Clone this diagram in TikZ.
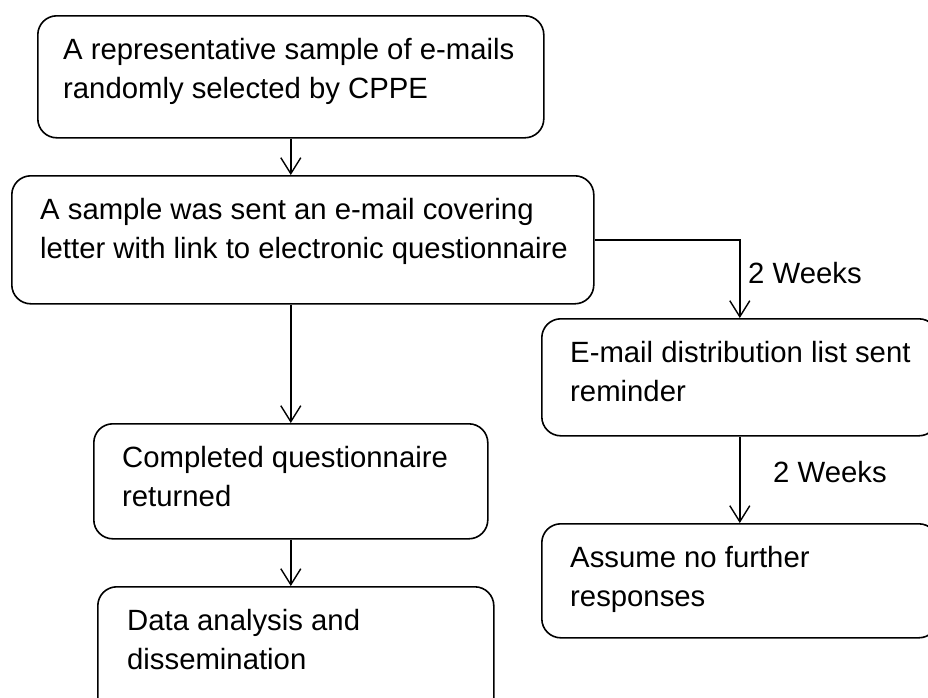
\documentclass[tikz,border=0pt]{standalone}
\usepackage{fontspec}
\setmainfont{Liberation Sans}
\usetikzlibrary{arrows.meta}
\begin{document}
\begin{tikzpicture}[x=1pt,y=-1pt,
  box/.style={draw, line width=1.6pt, rounded corners=19pt, inner sep=0pt, anchor=north west},
  txt/.style={inner sep=0pt, anchor=north west, align=left, font=\fontsize{29.3}{39}\selectfont},
  arr/.style={line width=1.6pt, -{Straight Barb[length=16pt,width=20pt,line width=1.4pt]}}]
\clip (0,0) rectangle (928,697);
\fill[white] (0,0) rectangle (928,697);
% boxes
\node[box, minimum width=506pt, minimum height=122pt] (b1) at (37,15) {};
\node[box, minimum width=582pt, minimum height=128pt] (b2) at (11,175) {};
\node[box, minimum width=396pt, minimum height=117pt] (b3) at (541,318) {};
\node[box, minimum width=396pt, minimum height=114pt] (b4) at (541,523) {};
\node[box, minimum width=394pt, minimum height=115pt] (b5) at (93,423) {};
\node[box, minimum width=396pt, minimum height=130pt] (b6) at (97,586) {};
% texts
\node[txt] (t1) at (63,38) {A representative sample of e-mails\\randomly selected by CPPE};
\node[txt] (t2) at (40,198) {A sample was sent an e-mail covering\\letter with link to electronic questionnaire};
\node[txt] (t3) at (570,341) {E-mail distribution list sent\\reminder};
\node[txt] (t4) at (570,546) {Assume no further\\responses};
\node[txt] (t5) at (122,446) {Completed questionnaire\\returned};
\node[txt] (t6) at (127,609) {Data analysis and\\dissemination};
% labels
\node[txt] (w1) at (748,262) {2 Weeks};
\node[txt] (w2) at (773,461) {2 Weeks};
% connectors
\draw[arr] (b1.south) -- (b1.south |- b2.north);
\draw[arr] (b5.north |- b2.south) -- (b5.north);
\draw[arr] (b5.south) -- (b5.south |- b6.north);
\draw[arr] (b2.east) -| (b3.north);
\draw[arr] (b3.south) -- (b4.north);
\end{tikzpicture}
\end{document}
